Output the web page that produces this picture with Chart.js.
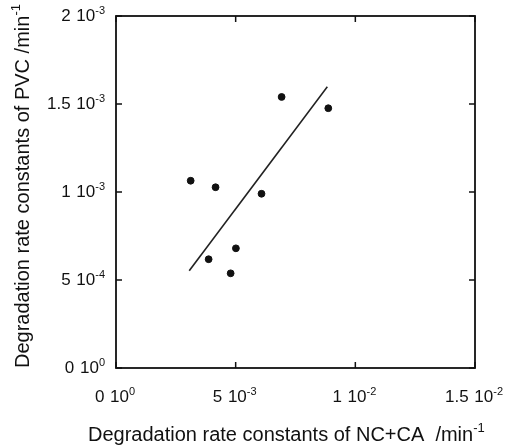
<!DOCTYPE html>
<html>
<head>
<meta charset="utf-8">
<script src="https://cdn.jsdelivr.net/npm/chart.js@4/dist/chart.umd.min.js"></script>
<style>
html,body{margin:0;padding:0;background:#fff;}
#wrap{width:518px;height:447px;}
</style>
</head>
<body>
<div id="wrap"><canvas id="c" width="518" height="447"></canvas></div>
<script>
// ---- data ----
const ncRates  = [6.92e-3, 8.87e-3, 3.12e-3, 4.16e-3, 6.08e-3, 5.01e-3, 3.87e-3, 4.79e-3];
const pvcRates = [1.54e-3, 1.476e-3, 1.064e-3, 1.027e-3, 0.99e-3, 0.68e-3, 0.618e-3, 0.538e-3];
const fitX = [3.06e-3, 8.83e-3];
const fitY = [0.553e-3, 1.598e-3];
const xTickValues = [0, 0.005, 0.01, 0.015];
const yTickValues = [0, 0.0005, 0.001, 0.0015, 0.002];
const xTickLabels = [['0','0'], ['5','-3'], ['1','-2'], ['1.5','-2']];
const yTickLabels = [['0','0'], ['5','-4'], ['1','-3'], ['1.5','-3'], ['2','-3']];
const xTitle = ['Degradation rate constants of NC+CA  /min', '-1'];
const yTitle = ['Degradation rate constants of PVC /min', '-1'];

const FONT = "'Liberation Sans', Arial, sans-serif";
const TICK_SIZE = 17, SUP_SIZE = 11, GAP = 1;

function measureLabel(ctx, base, sup) {
  ctx.font = TICK_SIZE + 'px ' + FONT;
  const w1 = ctx.measureText(base + ' ').width + GAP;
  const w2 = ctx.measureText('10').width;
  ctx.font = SUP_SIZE + 'px ' + FONT;
  const w3 = ctx.measureText(sup).width;
  return [w1, w2, w3];
}
function drawLabel(ctx, base, sup, x, y, align) {
  const [w1, w2, w3] = measureLabel(ctx, base, sup);
  const total = w1 + w2 + w3;
  let x0 = x;
  if (align === 'center') x0 = x - total / 2;
  else if (align === 'right') x0 = x - total;
  ctx.font = TICK_SIZE + 'px ' + FONT;
  ctx.fillText(base, x0, y);
  ctx.fillText('10', x0 + w1, y);
  ctx.font = SUP_SIZE + 'px ' + FONT;
  ctx.fillText(sup, x0 + w1 + w2, y - 7);
}

const framePlugin = {
  id: 'frame',
  afterDraw(chart) {
    const ctx = chart.ctx;
    const a = chart.chartArea;
    const xs = chart.scales.x, ys = chart.scales.y;
    ctx.save();
    ctx.strokeStyle = '#111';
    ctx.fillStyle = '#111';
    ctx.lineWidth = 1.8;
    ctx.strokeRect(a.left, a.top, a.right - a.left, a.bottom - a.top);
    const tl = 6;
    ctx.lineWidth = 1.5;
    ctx.beginPath();
    xTickValues.forEach(v => {
      const px = xs.getPixelForValue(v);
      ctx.moveTo(px, a.bottom); ctx.lineTo(px, a.bottom - tl);
      ctx.moveTo(px, a.top); ctx.lineTo(px, a.top + tl);
    });
    yTickValues.forEach(v => {
      const py = ys.getPixelForValue(v);
      ctx.moveTo(a.left, py); ctx.lineTo(a.left + tl, py);
      ctx.moveTo(a.right, py); ctx.lineTo(a.right - tl, py);
    });
    ctx.stroke();
    ctx.textBaseline = 'alphabetic';
    ctx.textAlign = 'left';
    xTickValues.forEach((v, i) => {
      const px = xs.getPixelForValue(v);
      drawLabel(ctx, xTickLabels[i][0], xTickLabels[i][1], px - 1, a.bottom + 33.5, 'center');
    });
    yTickValues.forEach((v, i) => {
      const py = ys.getPixelForValue(v);
      drawLabel(ctx, yTickLabels[i][0], yTickLabels[i][1], a.left - 11, py + 4.5, 'right');
    });
    // x title
    ctx.font = '20px ' + FONT;
    ctx.fillText(xTitle[0], 88, 441);
    let w = ctx.measureText(xTitle[0]).width;
    ctx.font = '13px ' + FONT;
    ctx.fillText(xTitle[1], 88 + w, 432);
    // y title
    ctx.translate(29, 368);
    ctx.rotate(-Math.PI / 2);
    ctx.font = '20px ' + FONT;
    ctx.fillText(yTitle[0], 0, 0);
    w = ctx.measureText(yTitle[0]).width;
    ctx.font = '13px ' + FONT;
    ctx.fillText(yTitle[1], w, -9);
    ctx.restore();
  }
};

new Chart(document.getElementById('c'), {
  type: 'scatter',
  data: {
    datasets: [
      {
        data: ncRates.map((x, i) => ({x: x, y: pvcRates[i]})),
        backgroundColor: '#111',
        borderColor: '#111',
        pointRadius: 3.4,
        pointHoverRadius: 3.4,
        showLine: false
      },
      {
        type: 'line',
        data: fitX.map((x, i) => ({x: x, y: fitY[i]})),
        borderColor: '#222',
        borderWidth: 1.6,
        pointRadius: 0,
        fill: false,
        showLine: true
      }
    ]
  },
  options: {
    responsive: false,
    animation: false,
    devicePixelRatio: 1,
    layout: {padding: {left: 116, right: 43, top: 16, bottom: 79}},
    plugins: {legend: {display: false}, tooltip: {enabled: false}},
    scales: {
      x: {type: 'linear', display: false, min: 0, max: 0.015},
      y: {type: 'linear', display: false, min: 0, max: 0.002}
    }
  },
  plugins: [framePlugin]
});
</script>
</body>
</html>
